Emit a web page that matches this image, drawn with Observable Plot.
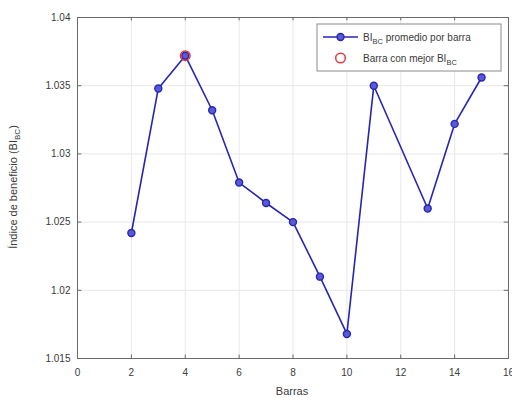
<!DOCTYPE html>
<html>
<head>
<meta charset="utf-8">
<script src="https://cdn.jsdelivr.net/npm/d3@7"></script>
<script src="https://cdn.jsdelivr.net/npm/@observablehq/plot@0.6"></script>
<style>
  html, body { margin: 0; padding: 0; background: #fff; }
  #chart { position: relative; width: 512px; height: 398px; }
  svg { font-family: "Liberation Sans", Arial, sans-serif; }
</style>
</head>
<body>
<div id="chart"></div>
<script>
// Bar numbers and the average benefit index BI_BC for each bar
const barras = [2, 3, 4, 5, 6, 7, 8, 9, 10, 11, 13, 14, 15];
const biPromedio = [1.0242, 1.0348, 1.0372, 1.0332, 1.0279, 1.0264, 1.0250, 1.0210, 1.0168, 1.0350, 1.0260, 1.0322, 1.0356];

// Axis ticks
const xTicks = [0, 2, 4, 6, 8, 10, 12, 14, 16];
const yTicks = [1.015, 1.02, 1.025, 1.03, 1.035, 1.04];
const yTickLabels = ["1.015", "1.02", "1.025", "1.03", "1.035", "1.04"];

const data = barras.map((b, i) => ({barra: b, bi: biPromedio[i]}));
// Best bar = highest BI_BC
const mejor = data.reduce((a, b) => (b.bi > a.bi ? b : a));

const lineColor = "#2626b4";
const textColor = "#3a3a3a";
const axisColor = "#6a6a6a";

const chart = Plot.plot({
  width: 512,
  height: 398,
  marginLeft: 77,
  marginRight: 4,
  marginTop: 17,
  marginBottom: 40,
  style: {fontSize: "10px", fontFamily: "Liberation Sans, Arial, sans-serif", color: textColor, background: "#fff"},
  x: {domain: [0, 16]},
  y: {domain: [1.015, 1.04]},
  marks: [
    Plot.gridX(xTicks, {stroke: "#e8e8e8", strokeOpacity: 1}),
    Plot.gridY(yTicks, {stroke: "#e8e8e8", strokeOpacity: 1}),
    Plot.axisX(xTicks, {tickSize: 0, tickPadding: 10, label: null, fill: textColor}),
    Plot.axisY(yTicks, {tickSize: 0, tickPadding: 7, label: null, fill: textColor,
      tickFormat: (d) => yTickLabels[yTicks.indexOf(d)]}),
    // small inward tick marks on all four sides of the box
    Plot.ruleX(xTicks, {x: (d) => d, y1: 1.015, y2: 1.01525, stroke: axisColor}),
    Plot.ruleX(xTicks, {x: (d) => d, y1: 1.04, y2: 1.03975, stroke: axisColor}),
    Plot.ruleY(yTicks, {y: (d) => d, x1: 0, x2: 0.16, stroke: axisColor}),
    Plot.ruleY(yTicks, {y: (d) => d, x1: 16, x2: 15.84, stroke: axisColor}),
    Plot.frame({stroke: axisColor, strokeWidth: 1}),
    Plot.line(data, {x: "barra", y: "bi", stroke: lineColor, strokeWidth: 1.6}),
    Plot.dot(data, {x: "barra", y: "bi", r: 3.5, stroke: lineColor, strokeWidth: 1.4, fill: "#5a5ad6"}),
    Plot.dot([mejor], {x: "barra", y: "bi", r: 4.8, stroke: "#e23a3a", strokeWidth: 1.5, fill: "none"})
  ]
});

document.getElementById("chart").appendChild(chart);

const svg = d3.select(chart);

// x-axis title
svg.append("text")
  .attr("x", 292)
  .attr("y", 395)
  .attr("text-anchor", "middle")
  .attr("font-size", 11)
  .attr("fill", textColor)
  .text("Barras");

// y-axis title with subscript
const yTitle = svg.append("text")
  .attr("transform", "translate(17,187) rotate(-90)")
  .attr("text-anchor", "middle")
  .attr("font-size", 11)
  .attr("fill", textColor);
yTitle.append("tspan").text("Índice de beneficio (BI");
yTitle.append("tspan").attr("font-size", 8).attr("dy", 3).text("BC");
yTitle.append("tspan").attr("dy", -3).text(")");

// Legend box
const lg = svg.append("g").attr("transform", "translate(317,24)").attr("text-anchor", "start");
lg.append("rect").attr("width", 184).attr("height", 47)
  .attr("fill", "#fff").attr("stroke", "#8a8a8a").attr("stroke-width", 1);
lg.append("line").attr("x1", 6).attr("x2", 41).attr("y1", 13).attr("y2", 13)
  .attr("stroke", lineColor).attr("stroke-width", 1.6);
lg.append("circle").attr("cx", 23.5).attr("cy", 13).attr("r", 3.5)
  .attr("stroke", lineColor).attr("stroke-width", 1.4).attr("fill", "#5a5ad6");
const t1 = lg.append("text").attr("x", 46).attr("y", 16.5).attr("font-size", 10)
  .attr("text-anchor", "start").attr("fill", textColor);
t1.append("tspan").text("BI");
t1.append("tspan").attr("font-size", 7.5).attr("dy", 3).text("BC");
t1.append("tspan").attr("dy", -3).text(" promedio por barra");
lg.append("circle").attr("cx", 23.5).attr("cy", 34).attr("r", 4.8)
  .attr("stroke", "#e23a3a").attr("stroke-width", 1.5).attr("fill", "none");
const t2 = lg.append("text").attr("x", 46).attr("y", 37.5).attr("font-size", 10)
  .attr("text-anchor", "start").attr("fill", textColor);
t2.append("tspan").text("Barra con mejor BI");
t2.append("tspan").attr("font-size", 7.5).attr("dy", 3).text("BC");
</script>
</body>
</html>
